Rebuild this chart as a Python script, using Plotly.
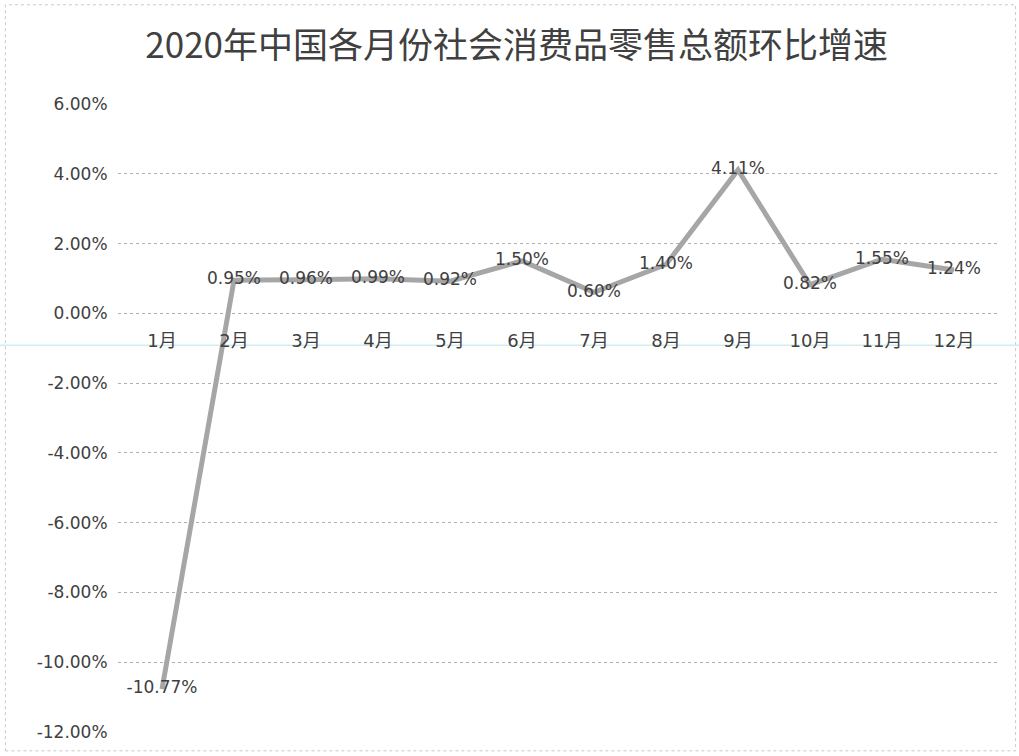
import plotly.graph_objects as go

months = ["1月", "2月", "3月", "4月", "5月", "6月", "7月", "8月", "9月", "10月", "11月", "12月"]
growth = [-10.77, 0.95, 0.96, 0.99, 0.92, 1.50, 0.60, 1.40, 4.11, 0.82, 1.55, 1.24]
y_ticks = [6, 4, 2, 0, -2, -4, -6, -8, -10, -12]
title_text = "2020年中国各月份社会消费品零售总额环比增速"

FONT = "DejaVu Sans, Noto Sans CJK SC"
TFONT = "Noto Sans CJK SC"
TXT = "#404040"

fig = go.Figure()
fig.add_trace(go.Scatter(
    x=months, y=growth,
    mode="lines+text",
    line=dict(color="#a6a6a6", width=5),
    text=[f"{v:.2f}%" for v in growth],
    textposition="middle center",
    textfont=dict(family=FONT, size=17, color=TXT),
    hoverinfo="skip",
    cliponaxis=False,
    showlegend=False,
))

y_range = [-12, 6]
zero_pos = (0 - y_range[0]) / (y_range[1] - y_range[0])

fig.update_layout(
    width=1019, height=756,
    margin=dict(l=118, r=21, t=104, b=24),
    paper_bgcolor="white", plot_bgcolor="white",
    title=dict(text=title_text, x=0.507, xref="container", xanchor="center",
               y=0.94, yref="container", yanchor="middle",
               font=dict(family=TFONT, size=35, color=TXT)),
    font=dict(family=FONT, color=TXT),
    xaxis=dict(
        type="category", anchor="free", position=zero_pos,
        showline=False, showgrid=False, zeroline=False,
        ticks="outside", ticklen=11, tickcolor="rgba(0,0,0,0)",
        tickfont=dict(family=FONT, size=18, color=TXT),
    ),
    yaxis=dict(
        range=y_range, tickvals=y_ticks,
        ticktext=[f"{v:.2f}%" for v in y_ticks],
        showgrid=True, gridcolor="#b0b0b0", gridwidth=1, griddash="dot",
        zeroline=False, showline=False,
        ticks="outside", ticklen=6, tickcolor="rgba(0,0,0,0)",
        tickfont=dict(family=FONT, size=17, color=TXT),
    ),
    shapes=[
        dict(type="rect", xref="paper", yref="paper",
             x0=-0.128, x1=1.02, y0=-0.03, y1=1.158,
             line=dict(color="#c8c8c8", width=1, dash="dot"), layer="below"),
        dict(type="line", xref="paper", yref="paper",
             x0=-0.14, x1=1.03, y0=0.616, y1=0.616,
             line=dict(color="#cdeff2", width=1.5), layer="below"),
    ],
)

fig.write_html("out.html")
